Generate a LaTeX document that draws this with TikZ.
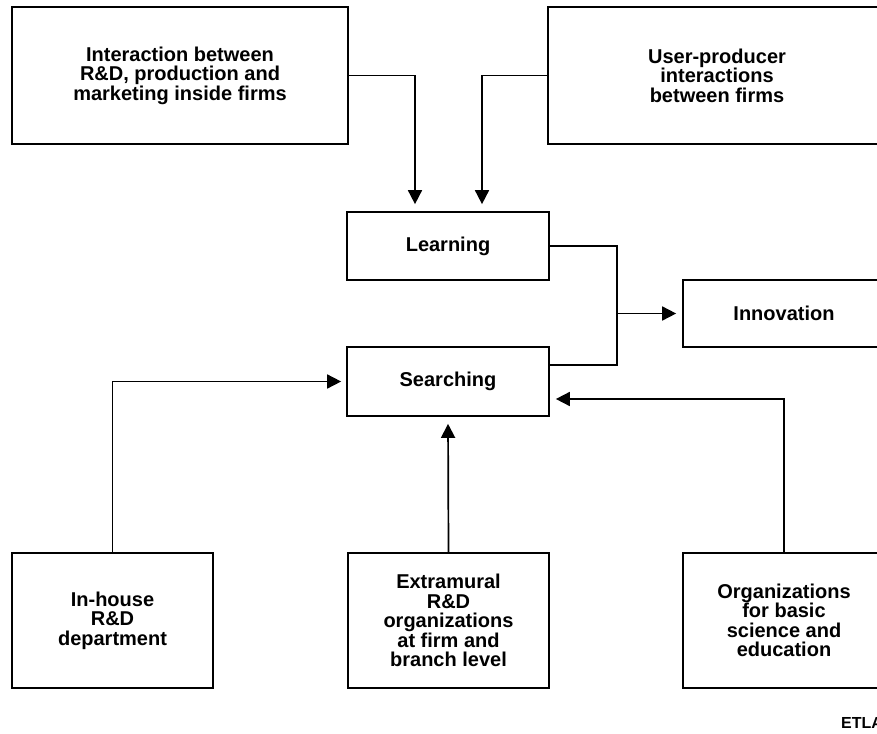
\documentclass[tikz,border=0pt]{standalone}
\usepackage{fontspec}
\setmainfont{Liberation Sans}
\usetikzlibrary{arrows.meta}
\begin{document}
\begin{tikzpicture}[x=1pt,y=-1pt,
  box/.style={draw, line width=1.7pt, inner sep=0pt, align=center,
    font=\fontsize{20}{19.5}\selectfont\bfseries},
  arr/.style={draw, line width=1.7pt, -{Triangle[length=14pt,width=14pt]}},
  link/.style={draw, line width=1.7pt}]
\useasboundingbox (0,0) rectangle (877,733);
\node[box, minimum width=336pt, minimum height=137pt] (tl) at (180,75.5)
  {Interaction between\\R\&D, production and\\marketing inside firms};
\node[box, minimum width=338pt, minimum height=137pt] (tr) at (717,75.5)
  {User-producer\\interactions\\between firms};
\node[box, minimum width=202pt, minimum height=68pt] (learn) at (448,246) {Learning};
\node[box, minimum width=202pt, minimum height=69pt] (search) at (448,381.5) {Searching};
\node[box, minimum width=202pt, minimum height=67pt] (innov) at (784,313.5) {Innovation};
\node[box, minimum width=201pt, minimum height=135pt] (bl) at (112.5,620.5)
  {In-house\\R\&D\\department};
\node[box, minimum width=201pt, minimum height=135pt] (bm) at (448.5,620.5)
  {Extramural\\R\&D\\organizations\\at firm and\\branch level};
\node[box, minimum width=202pt, minimum height=135pt] (br) at (784,620.5)
  {Organizations\\for basic\\science and\\education};
\node[anchor=base west, inner sep=0pt, font=\fontsize{16}{16}\selectfont\bfseries] (etla) at (841,728) {ETLA};
\coordinate (j) at (617,313.5);
\draw[arr, shorten >=7pt] (tl.east) -| ([xshift=-33pt]learn.north);
\draw[arr, shorten >=7pt] (tr.west) -| ([xshift=34pt]learn.north);
\draw[link] (learn.east) -| (j) |- ([yshift=16.5pt]search.east);
\draw[arr, shorten >=6pt] (j) -- (innov.west);
\draw[arr, shorten >=5pt] (bl.north) |- (search.west);
\draw[arr, shorten >=7pt] (bm.north) -- (search.south);
\draw[arr, shorten >=6pt] (br.north) |- ([yshift=-17.5pt]search.east);
\end{tikzpicture}
\end{document}
